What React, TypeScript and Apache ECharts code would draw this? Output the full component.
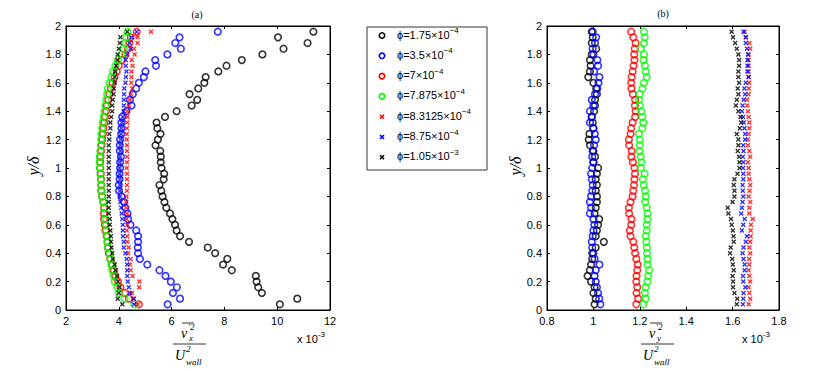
import React, { useEffect, useRef } from "react";
import * as echarts from "echarts";

// y / delta positions of the measurement points
const yVals = [
  0.04, 0.08, 0.12, 0.16, 0.2, 0.24, 0.28, 0.32, 0.36, 0.4,
  0.44, 0.48, 0.52, 0.56, 0.6, 0.64, 0.68, 0.72, 0.76, 0.8,
  0.84, 0.88, 0.92, 0.96, 1.0, 1.04, 1.08, 1.12, 1.16, 1.2,
  1.24, 1.28, 1.32, 1.36, 1.4, 1.44, 1.48, 1.52, 1.56, 1.6,
  1.64, 1.68, 1.72, 1.76, 1.8, 1.84, 1.88, 1.92, 1.96,
];

// (a) v_x'^2 / U_wall^2, in units of 1e-3
const leftPhi1 = [10.1, 10.76, 9.42, 9.28, 9.22, 9.19, 8.28, 7.95, 8.11, 7.65, 7.37, 6.66, 6.32, 6.19, 6.13, 6.03, 5.94, 5.8, 5.73, 5.66, 5.61, 5.54, 5.7, 5.72, 5.62, 5.59, 5.59, 5.57, 5.39, 5.48, 5.58, 5.46, 5.43, 5.75, 6.19, 6.76, 6.97, 6.68, 7.01, 7.24, 7.29, 7.77, 8.08, 8.66, 9.44, 10.24, 11.15, 10.03, 11.37];
const leftPhi2 = [5.85, 6.32, 6.05, 6.2, 5.97, 5.77, 5.54, 5.08, 4.8, 4.73, 4.72, 4.73, 4.73, 4.66, 4.44, 4.35, 4.33, 4.25, 4.2, 4.1, 4.01, 4.0, 4.03, 4.03, 4.05, 4.05, 4.08, 4.04, 4.04, 4.05, 4.09, 4.1, 4.1, 4.13, 4.29, 4.48, 4.42, 4.53, 4.66, 4.76, 4.95, 5.01, 5.41, 5.38, 5.84, 6.35, 6.14, 6.3, 7.75];
const leftPhi3 = [4.76, 4.38, 4.23, 4.06, 3.97, 3.87, 3.81, 3.75, 3.68, 3.62, 3.59, 3.57, 3.54, 3.49, 3.47, 3.44, 3.43, 3.44, 3.42, 3.37, 3.34, 3.34, 3.33, 3.32, 3.3, 3.3, 3.31, 3.33, 3.35, 3.37, 3.4, 3.42, 3.45, 3.48, 3.52, 3.55, 3.6, 3.64, 3.7, 3.76, 3.84, 3.92, 4.0, 4.12, 4.25, 4.35, 4.4, 4.45, 4.68];
const leftPhi4 = [4.58, 4.22, 4.0, 3.94, 3.85, 3.81, 3.75, 3.72, 3.68, 3.65, 3.59, 3.57, 3.56, 3.53, 3.52, 3.49, 3.47, 3.46, 3.41, 3.37, 3.34, 3.33, 3.32, 3.3, 3.28, 3.27, 3.28, 3.3, 3.32, 3.33, 3.34, 3.37, 3.39, 3.43, 3.46, 3.49, 3.52, 3.56, 3.59, 3.65, 3.72, 3.78, 3.87, 3.97, 4.1, 4.19, 4.25, 4.29, 4.33];
const leftPhi5 = [4.72, 4.55, 4.5, 4.77, 4.78, 4.52, 4.45, 4.42, 4.45, 4.35, 4.37, 4.32, 4.32, 4.3, 4.33, 4.3, 4.31, 4.28, 4.28, 4.29, 4.31, 4.31, 4.31, 4.31, 4.3, 4.31, 4.32, 4.31, 4.31, 4.3, 4.3, 4.31, 4.32, 4.33, 4.33, 4.38, 4.42, 4.46, 4.51, 4.47, 4.48, 4.48, 4.52, 4.49, 4.6, 4.57, 4.71, 4.71, 5.22];
const leftPhi6 = [4.57, 4.57, 4.42, 4.38, 4.34, 4.32, 4.32, 4.32, 4.3, 4.25, 4.19, 4.19, 4.16, 4.15, 4.15, 4.13, 4.11, 4.09, 4.06, 4.05, 4.04, 4.04, 4.04, 4.03, 4.03, 4.04, 4.05, 4.06, 4.06, 4.07, 4.08, 4.1, 4.12, 4.15, 4.18, 4.19, 4.19, 4.2, 4.21, 4.25, 4.27, 4.29, 4.26, 4.26, 4.31, 4.44, 4.41, 4.48, 4.68];
const leftPhi7 = [4.13, 3.96, 4.0, 4.03, 3.97, 3.92, 3.87, 3.84, 3.77, 3.75, 3.72, 3.7, 3.7, 3.68, 3.66, 3.66, 3.62, 3.62, 3.62, 3.62, 3.62, 3.62, 3.62, 3.62, 3.62, 3.62, 3.62, 3.62, 3.62, 3.64, 3.64, 3.68, 3.68, 3.71, 3.75, 3.75, 3.77, 3.8, 3.81, 3.85, 3.85, 3.87, 3.9, 3.94, 3.96, 4.0, 4.04, 4.06, 4.32];

// (b) v_y'^2 / U_wall^2, in units of 1e-3
const rightPhi1 = [1.005, 1.01, 1.0, 1.005, 0.99, 0.975, 0.985, 0.99, 0.995, 0.995, 1.01, 1.045, 1.01, 1.015, 1.02, 1.025, 1.005, 1.01, 1.015, 1.015, 1.01, 1.015, 1.01, 1.015, 1.02, 1.0, 1.007, 0.997, 0.985, 0.98, 0.983, 1.0, 0.997, 0.993, 1.003, 1.007, 1.007, 1.015, 1.012, 1.0, 0.978, 0.985, 0.988, 0.985, 0.993, 1.012, 0.993, 0.997, 0.993];
const rightPhi2 = [1.03, 1.025, 1.02, 1.015, 1.01, 1.005, 1.01, 1.026, 1.005, 1.0, 0.995, 0.993, 0.997, 1.0, 1.004, 1.0, 0.985, 0.99, 0.985, 0.99, 0.995, 0.997, 0.993, 0.99, 0.995, 1.0, 0.995, 1.0, 1.003, 1.01, 1.006, 1.0, 0.985, 0.993, 0.985, 1.0, 0.993, 1.007, 1.017, 1.022, 1.026, 1.003, 1.02, 1.017, 1.0, 0.997, 1.007, 1.012, 0.997];
const rightPhi3 = [1.185, 1.193, 1.186, 1.189, 1.185, 1.186, 1.189, 1.191, 1.185, 1.18, 1.176, 1.172, 1.16, 1.157, 1.163, 1.164, 1.154, 1.153, 1.16, 1.169, 1.172, 1.175, 1.177, 1.179, 1.177, 1.17, 1.164, 1.165, 1.154, 1.153, 1.16, 1.163, 1.169, 1.18, 1.182, 1.179, 1.18, 1.17, 1.164, 1.163, 1.165, 1.169, 1.173, 1.177, 1.176, 1.178, 1.182, 1.172, 1.163];
const rightPhi4 = [1.215, 1.225, 1.222, 1.225, 1.233, 1.236, 1.24, 1.233, 1.233, 1.231, 1.231, 1.228, 1.226, 1.23, 1.23, 1.233, 1.233, 1.23, 1.223, 1.226, 1.223, 1.217, 1.213, 1.221, 1.204, 1.207, 1.204, 1.198, 1.2, 1.2, 1.196, 1.211, 1.215, 1.211, 1.207, 1.2, 1.196, 1.2, 1.211, 1.218, 1.23, 1.226, 1.222, 1.216, 1.218, 1.204, 1.218, 1.221, 1.218];
const rightPhi5 = [1.669, 1.676, 1.672, 1.669, 1.676, 1.672, 1.669, 1.672, 1.671, 1.676, 1.672, 1.676, 1.678, 1.678, 1.679, 1.687, 1.672, 1.672, 1.676, 1.669, 1.673, 1.676, 1.672, 1.669, 1.669, 1.666, 1.676, 1.672, 1.666, 1.666, 1.669, 1.672, 1.672, 1.669, 1.666, 1.663, 1.662, 1.669, 1.67, 1.672, 1.669, 1.669, 1.669, 1.669, 1.669, 1.676, 1.672, 1.657, 1.652];
const rightPhi6 = [1.644, 1.646, 1.647, 1.655, 1.646, 1.645, 1.652, 1.652, 1.647, 1.643, 1.647, 1.657, 1.662, 1.64, 1.646, 1.652, 1.637, 1.64, 1.643, 1.646, 1.644, 1.643, 1.646, 1.646, 1.645, 1.646, 1.644, 1.647, 1.646, 1.654, 1.654, 1.651, 1.648, 1.645, 1.64, 1.643, 1.648, 1.654, 1.651, 1.657, 1.669, 1.664, 1.664, 1.664, 1.666, 1.662, 1.657, 1.657, 1.647];
const rightPhi7 = [1.618, 1.62, 1.608, 1.602, 1.602, 1.6, 1.605, 1.601, 1.598, 1.589, 1.592, 1.605, 1.604, 1.601, 1.596, 1.593, 1.582, 1.579, 1.6, 1.608, 1.608, 1.605, 1.608, 1.621, 1.63, 1.63, 1.628, 1.622, 1.625, 1.625, 1.618, 1.631, 1.637, 1.634, 1.625, 1.614, 1.618, 1.625, 1.622, 1.628, 1.625, 1.625, 1.628, 1.628, 1.625, 1.618, 1.611, 1.602, 1.596];

const legendMain = ["ϕ=1.75×10", "ϕ=3.5×10", "ϕ=7×10", "ϕ=7.875×10", "ϕ=8.3125×10", "ϕ=8.75×10", "ϕ=1.05×10"];
const legendExp = ["−4", "−4", "−4", "−4", "−4", "−4", "−3"];
const seriesColors = ["#000000", "#0000ff", "#ff0000", "#00ff00", "#ff0000", "#0000ff", "#000000"];
const seriesMarkers = ["o", "o", "o", "o", "x", "x", "x"];

const leftTicksX = { min: 2, max: 12, interval: 2 };
const rightTicksX = { min: 0.8, max: 1.8, interval: 0.2 };
const ticksY = { min: 0, max: 2, interval: 0.2 };

const CROSS = "path://M0,2L2,0L5,3L8,0L10,2L7,5L10,8L8,10L5,7L2,10L0,8L3,5Z";
const SANS = '"Liberation Sans", Arial, Helvetica, sans-serif';
const SERIF = '"Liberation Serif", "DejaVu Serif", serif';

export default function App() {
  const ref = useRef<HTMLDivElement>(null);
  useEffect(() => {
    if (!ref.current) return;
    const chart = echarts.init(ref.current, null, { renderer: "svg" });
    const leftData = [leftPhi1, leftPhi2, leftPhi3, leftPhi4, leftPhi5, leftPhi6, leftPhi7];
    const rightData = [rightPhi1, rightPhi2, rightPhi3, rightPhi4, rightPhi5, rightPhi6, rightPhi7];

    const mkSeries = (arr: number[], k: number, axis: number) => {
      const col = seriesColors[k];
      const isO = seriesMarkers[k] === "o";
      return {
        type: "scatter",
        name: legendMain[k] + legendExp[k],
        xAxisIndex: axis,
        yAxisIndex: axis,
        data: arr.map((x, i) => [x, yVals[i]]),
        symbol: isO ? "circle" : CROSS,
        symbolSize: isO ? 6.6 : 5,
        itemStyle: isO
          ? { color: "rgba(0,0,0,0)", borderColor: col, borderWidth: 1.6 }
          : { color: col, borderWidth: 0 },
        emphasis: { disabled: true },
        silent: true,
      };
    };
    const series: any[] = [];
    leftData.forEach((a, k) => series.push(mkSeries(a, k, 0)));
    rightData.forEach((a, k) => series.push(mkSeries(a, k, 2)));

    const axisCommon = {
      type: "value",
      axisLine: { show: true, onZero: false, lineStyle: { color: "#000", width: 1 } },
      axisTick: { show: true, inside: true, length: 3, lineStyle: { color: "#000" } },
      splitLine: { show: false },
    };
    const fmtY = (v: number) => String(Number(v.toFixed(1)));
    const label = { show: true, color: "#000", fontSize: 11, fontFamily: SANS, margin: 5 };
    const mkX = (grid: number, t: any, pos: string, show: boolean) => ({
      ...axisCommon, gridIndex: grid, position: pos, ...t,
      axisLabel: show ? { ...label, formatter: fmtY } : { show: false },
    });
    const mkY = (grid: number, pos: string, show: boolean) => ({
      ...axisCommon, gridIndex: grid, position: pos, ...ticksY,
      axisLabel: show ? { ...label, formatter: fmtY } : { show: false },
    });

    const graphic: any[] = [];
    // titles
    graphic.push({ type: "text", x: 197, y: 14, style: { text: "(a)", font: `10px ${SERIF}`, fill: "#000", align: "center", verticalAlign: "middle" } });
    graphic.push({ type: "text", x: 663, y: 13, style: { text: "(b)", font: `10px ${SERIF}`, fill: "#000", align: "center", verticalAlign: "middle" } });
    // y labels
    [33, 515].forEach((x) => {
      graphic.push({ type: "text", x, y: 166, rotation: Math.PI / 2, style: { text: "y/δ", font: `italic 16px ${SERIF}`, fill: "#000", align: "center", verticalAlign: "middle" } });
    });
    // fractions
    const frac = (cx: number, sub: string) => {
      const it = (t: string, x: number, y: number, size: number, align = "center") => ({
        type: "text", x, y, style: { text: t, font: `italic ${size}px ${SERIF}`, fill: "#000", align, verticalAlign: "middle" },
      });
      graphic.push(it("v", cx - 5, 333, 14));
      graphic.push({ type: "line", shape: { x1: cx - 7, y1: 323, x2: cx + 5, y2: 323 }, style: { stroke: "#000", lineWidth: 0.8 } });
      graphic.push(it("′2", cx - 1, 327, 9, "left"));
      graphic.push(it(sub, cx, 338, 9, "left"));
      graphic.push({ type: "line", shape: { x1: cx - 16, y1: 344, x2: cx + 17, y2: 344 }, style: { stroke: "#000", lineWidth: 0.8 } });
      graphic.push(it("U", cx - 9, 355, 14));
      graphic.push(it("2", cx - 3, 349, 9, "left"));
      graphic.push(it("wall", cx - 3, 362, 9, "left"));
    };
    frac(189, "x");
    frac(657, "y");
    const supRich = { s: { fontSize: 8, fontFamily: SANS, verticalAlign: "top", lineHeight: 8 } };
    // x 10^-3
    [297, 742].forEach((x) => {
      graphic.push({
        type: "text", x, y: 339,
        style: {
          text: "x 10{s|-3}", font: `11px ${SANS}`, lineHeight: 17, fill: "#000", align: "left", verticalAlign: "middle",
          rich: supRich,
        },
      });
    });
    // legend
    graphic.push({ type: "rect", shape: { x: 367, y: 27, width: 120, height: 143 }, style: { fill: "#fff", stroke: "#000", lineWidth: 0.8 } });
    legendMain.forEach((t, k) => {
      const cy = 35.5 + k * 20.3;
      const col = seriesColors[k];
      if (seriesMarkers[k] === "o") {
        graphic.push({ type: "circle", shape: { cx: 382, cy, r: 2.7 }, style: { fill: "none", stroke: col, lineWidth: 1.6 } });
      } else {
        graphic.push({ type: "line", shape: { x1: 380, y1: cy - 2, x2: 384, y2: cy + 2 }, style: { stroke: col, lineWidth: 1.6 } });
        graphic.push({ type: "line", shape: { x1: 380, y1: cy + 2, x2: 384, y2: cy - 2 }, style: { stroke: col, lineWidth: 1.6 } });
      }
      graphic.push({
        type: "text", x: 397, y: cy - 1,
        style: {
          text: t + "{s|" + legendExp[k] + "}", font: `11px ${SANS}`, lineHeight: 16, fill: "#000", align: "left", verticalAlign: "middle",
          rich: supRich,
        },
      });
    });

    chart.setOption({
      animation: false,
      backgroundColor: "#fff",
      grid: [
        { left: 66, top: 26, width: 264, height: 284, show: true, borderColor: "#000", borderWidth: 1, backgroundColor: "transparent" },
        { left: 547, top: 26, width: 232, height: 284, show: true, borderColor: "#000", borderWidth: 1, backgroundColor: "transparent" },
      ],
      xAxis: [
        mkX(0, leftTicksX, "bottom", true),
        mkX(0, leftTicksX, "top", false),
        mkX(1, rightTicksX, "bottom", true),
        mkX(1, rightTicksX, "top", false),
      ],
      yAxis: [
        mkY(0, "left", true),
        mkY(0, "right", false),
        mkY(1, "left", true),
        mkY(1, "right", false),
      ],
      series,
      graphic,
    });
    return () => chart.dispose();
  }, []);
  return (
    <div
      ref={ref}
      style={{ position: "absolute", left: 0, top: 0, width: 830, height: 372, background: "#fff" }}
    />
  );
}
